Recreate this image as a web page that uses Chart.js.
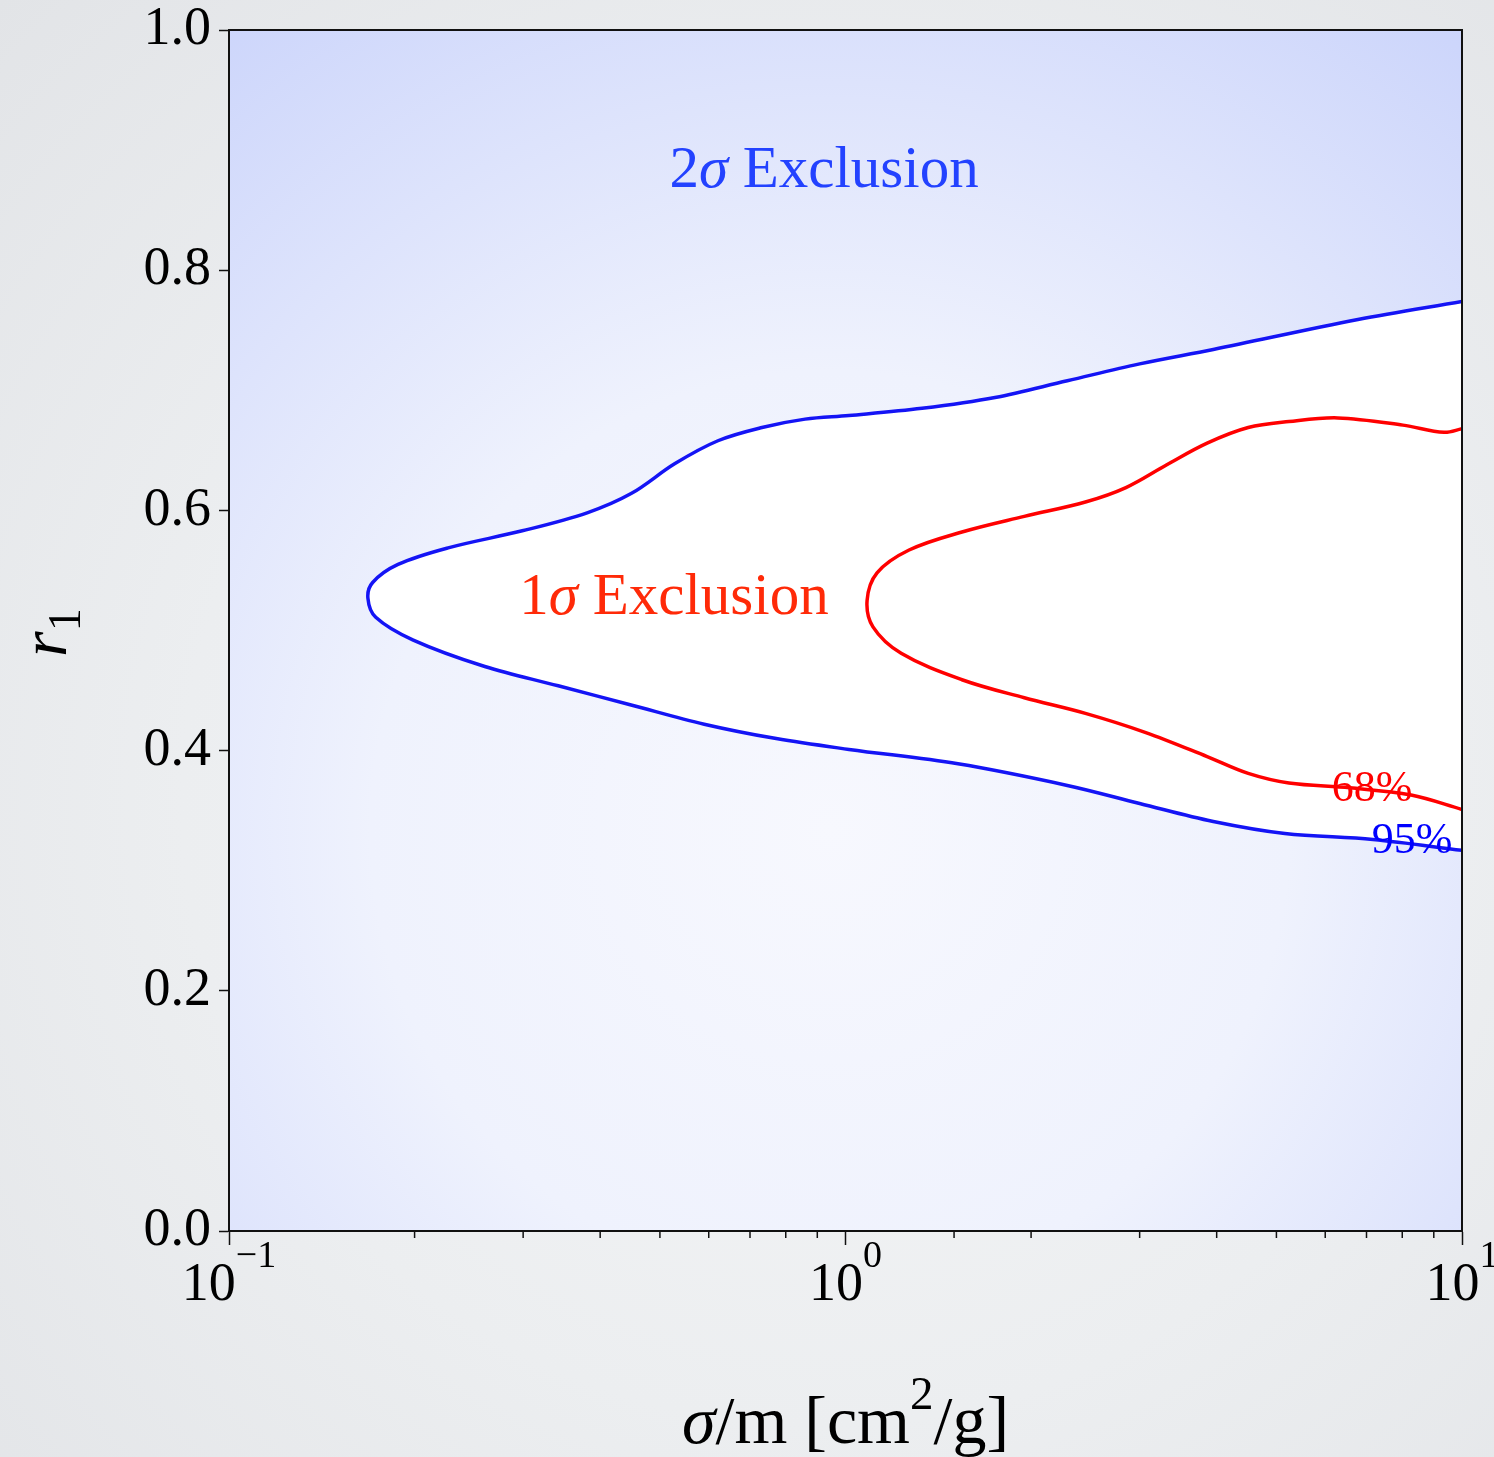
<!DOCTYPE html>
<html>
<head>
<meta charset="utf-8">
<script src="https://cdn.jsdelivr.net/npm/chart.js@4.4.0/dist/chart.umd.min.js"></script>
<style>
html, body { margin: 0; padding: 0; }
body {
	width: 1494px; height: 1457px; overflow: hidden;
	background: radial-gradient(ellipse at 55% 55%, #f5f6f7 0%, #eceef0 55%, #e2e4e7 100%);
}
canvas { display: block; }
</style>
</head>
<body>
<canvas id="c" width="1494" height="1457"></canvas>
<script>
let canvas = document.getElementById('c');
let ctx = canvas.getContext('2d');

// 95% contour: upper branch right -> tip, then lower branch tip -> right
let blueX = [10, 6.78, 3.95, 3.00, 2.29, 1.748, 1.331, 1.013, 0.860, 0.732, 0.621, 0.529, 0.449, 0.381, 0.299, 0.2275, 0.188, 0.171, 0.168,
	0.173, 0.199, 0.260, 0.342, 0.449, 0.590, 0.772, 1.013, 1.522, 2.29, 3.00, 3.95, 5.16, 7.17, 10];
let blueY = [0.774, 0.759, 0.734, 0.722, 0.708, 0.694, 0.685, 0.679, 0.676, 0.669, 0.658, 0.639, 0.614, 0.598, 0.583, 0.569, 0.555, 0.540, 0.527,
	0.511, 0.492, 0.470, 0.454, 0.438, 0.422, 0.410, 0.401, 0.389, 0.371, 0.356, 0.341, 0.331, 0.326, 0.317];

// 68% contour
let redX = [10, 9.35, 8.02, 6.29, 5.24, 4.50, 3.86, 3.32, 2.85, 2.45, 1.95, 1.545, 1.268, 1.125, 1.084,
	1.108, 1.231, 1.545, 1.95, 2.45, 3.07, 3.86, 4.50, 5.24, 6.58, 8.27, 10];
let redY = [0.668, 0.665, 0.671, 0.677, 0.674, 0.669, 0.656, 0.638, 0.619, 0.607, 0.595, 0.582, 0.567, 0.548, 0.525,
	0.503, 0.481, 0.459, 0.444, 0.431, 0.415, 0.395, 0.381, 0.373, 0.369, 0.363, 0.351];

let yTicks = [0, 0.2, 0.4, 0.6, 0.8, 1.0];
let xMajor = [0.1, 1, 10];
let xExp = ['\u22121', '0', '1'];

// text annotations: [x, y] in data units (centre x, baseline y)
let label2s = [0.923, 0.869];
let label1s = [0.527, 0.514];
let label68 = [7.15, 0.358];
let label95 = [8.30, 0.315];

const SERIF = "'Liberation Serif', 'Times New Roman', serif";

function toPoints(xs, ys){
	return xs.map((x, i) => ({x: x, y: ys[i]}));
}

// draw several text pieces one after another; parts = [text, font, dy]
function drawRuns(c, parts, x, y, center){
	let w = 0;
	parts.forEach(p => { c.font = p[1]; w += c.measureText(p[0]).width; });
	let cx = center ? x - w / 2 : x;
	parts.forEach(p => {
		c.font = p[1];
		c.fillText(p[0], cx, y + (p[2] || 0));
		cx += c.measureText(p[0]).width;
	});
}

let decor = {
	id: 'decor',
	beforeDraw(chart){
		let c = chart.ctx, a = chart.chartArea;
		c.save();
		let g = c.createRadialGradient(830, 830, 0, 830, 830, 1020);
		g.addColorStop(0, '#f7f8fe');
		g.addColorStop(0.45, '#eff2fd');
		g.addColorStop(1, '#ccd5fb');
		c.fillStyle = g;
		c.fillRect(a.left, a.top, a.right - a.left, a.bottom - a.top);
		c.restore();
	},
	afterDraw(chart){
		let c = chart.ctx, a = chart.chartArea;
		let xs = chart.scales.x, ys = chart.scales.y;
		c.save();

		// top and right frame
		c.strokeStyle = '#111';
		c.lineWidth = 2;
		c.beginPath();
		c.moveTo(a.left, a.top);
		c.lineTo(a.right, a.top);
		c.lineTo(a.right, a.bottom);
		c.stroke();

		// minor ticks on log axis
		c.lineWidth = 1.5;
		xs.ticks.forEach(t => {
			let lg = Math.log10(t.value);
			if(Math.abs(lg - Math.round(lg)) < 1e-6) return;
			let px = xs.getPixelForValue(t.value);
			c.beginPath();
			c.moveTo(px, a.bottom);
			c.lineTo(px, a.bottom + 7);
			c.stroke();
		});

		// x tick labels 10^n
		c.fillStyle = '#000';
		c.textBaseline = 'alphabetic';
		c.textAlign = 'left';
		xMajor.forEach((v, i) => {
			let px = xs.getPixelForValue(v);
			drawRuns(c, [['10', '54px ' + SERIF, 0], [xExp[i], '38px ' + SERIF, -33]], px, a.bottom + 69, true);
		});

		// x title
		drawRuns(c, [
			['\u03c3', 'italic 68px ' + SERIF, 0],
			['/m [cm', '68px ' + SERIF, 0],
			['2', '47px ' + SERIF, -34],
			['/g]', '68px ' + SERIF, 0]
		], (a.left + a.right) / 2, 1443, true);

		// y title r_1, rotated
		c.save();
		c.translate(66, 657);
		c.rotate(-Math.PI / 2);
		drawRuns(c, [['r', 'italic 66px ' + SERIF, 0], ['1', '46px ' + SERIF, 14]], 0, 0, false);
		c.restore();

		// exclusion labels
		c.fillStyle = '#2342ff';
		drawRuns(c, [['2', '59px ' + SERIF], ['\u03c3', 'italic 59px ' + SERIF], [' Exclusion', '59px ' + SERIF]],
			xs.getPixelForValue(label2s[0]), ys.getPixelForValue(label2s[1]), true);
		c.fillStyle = '#ff2a08';
		drawRuns(c, [['1', '59px ' + SERIF], ['\u03c3', 'italic 59px ' + SERIF], [' Exclusion', '59px ' + SERIF]],
			xs.getPixelForValue(label1s[0]), ys.getPixelForValue(label1s[1]), true);

		// contour level labels
		c.fillStyle = '#ff0000';
		drawRuns(c, [['68%', '44px ' + SERIF]], xs.getPixelForValue(label68[0]), ys.getPixelForValue(label68[1]), true);
		c.fillStyle = '#0000ff';
		drawRuns(c, [['95%', '44px ' + SERIF]], xs.getPixelForValue(label95[0]), ys.getPixelForValue(label95[1]), true);

		c.restore();
	}
};

let chart = new Chart(ctx, {
	type: 'scatter',
	data: {
		datasets: [{
			label: '95%',
			data: toPoints(blueX, blueY),
			showLine: true,
			order: 2,
			borderColor: '#1414f5',
			borderWidth: 3.5,
			backgroundColor: '#ffffff',
			fill: 'shape',
			tension: 0.35,
			pointRadius: 0
		}, {
			label: '68%',
			data: toPoints(redX, redY),
			showLine: true,
			order: 1,
			borderColor: '#ff0000',
			borderWidth: 3.5,
			fill: false,
			tension: 0.35,
			pointRadius: 0
		}]
	},
	options: {
		responsive: false,
		animation: false,
		layout: { padding: { top: 30, right: 32, left: 0, bottom: 0 } },
		plugins: {
			legend: { display: false },
			tooltip: { enabled: false }
		},
		scales: {
			x: {
				type: 'logarithmic',
				min: 0.1,
				max: 10,
				afterFit(scale){ scale.height = 226; },
				border: { display: true, color: '#111', width: 2 },
				grid: {
					drawOnChartArea: false,
					drawTicks: true,
					tickLength: 14,
					tickWidth: 1.5,
					tickColor: (c) => {
						if(!c.tick) return 'rgba(0,0,0,0)';
						let lg = Math.log10(c.tick.value);
						return Math.abs(lg - Math.round(lg)) < 1e-6 ? '#111' : 'rgba(0,0,0,0)';
					}
				},
				ticks: { display: false, autoSkip: false }
			},
			y: {
				min: 0,
				max: 1,
				afterFit(scale){ scale.width = 229; },
				afterBuildTicks(scale){ scale.ticks = yTicks.map(v => ({value: v})); },
				border: { display: true, color: '#111', width: 2 },
				grid: {
					drawOnChartArea: false,
					drawTicks: true,
					tickLength: 10,
					tickWidth: 1.5,
					tickColor: '#111'
				},
				ticks: {
					color: '#000',
					padding: 8,
					font: { family: 'Liberation Serif', size: 54, lineHeight: 0.6 },
					callback: (v) => v.toFixed(1)
				}
			}
		}
	},
	plugins: [decor]
});
</script>
</body>
</html>
